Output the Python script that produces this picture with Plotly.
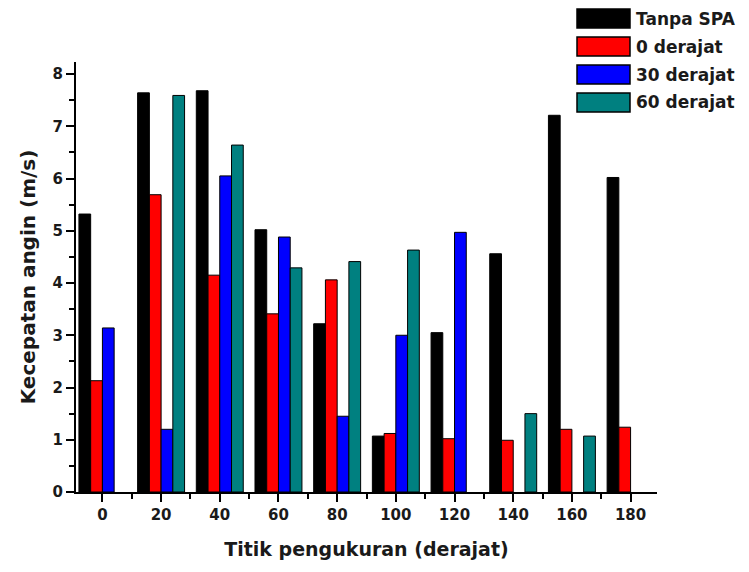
import plotly.graph_objects as go

# Measurement points (degrees) and wind speed (m/s) per configuration
titik = [0, 20, 40, 60, 80, 100, 120, 140, 160, 180]
tanpa_spa = [5.32, 7.64, 7.68, 5.02, 3.22, 1.07, 3.05, 4.56, 7.21, 6.02]
derajat_0 = [2.13, 5.69, 4.15, 3.41, 4.06, 1.12, 1.02, 0.99, 1.20, 1.24]
derajat_30 = [3.14, 1.20, 6.05, 4.88, 1.45, 3.00, 4.97, None, None, None]
derajat_60 = [None, 7.59, 6.64, 4.29, 4.41, 4.63, None, 1.50, 1.07, None]

series_names = ["Tanpa SPA", "0 derajat", "30 derajat", "60 derajat"]
series_values = [tanpa_spa, derajat_0, derajat_30, derajat_60]
series_colors = ["#000000", "#FF0000", "#0000FF", "#008080"]

W, H = 749, 572
L, R, T, B = 76, 92, 62, 80
FONT = "DejaVu Sans"
TXT = "#1a1a1a"

fig = go.Figure()
for name, vals, col in zip(series_names, series_values, series_colors):
    fig.add_trace(go.Bar(
        x=titik, y=vals, name=name,
        marker=dict(color=col, line=dict(color="#000000", width=1)),
        showlegend=False,
    ))

# Legend drawn as boxes + labels in the top-right corner
pw, ph = W - L - R, H - T - B


def px_x(px):
    return (px - L) / pw


def px_y(py):
    return (H - B - py) / ph


shapes, annotations = [], []
for i, (name, col) in enumerate(zip(series_names, series_colors)):
    top = 9 + 28 * i
    bot = top + 19
    shapes.append(dict(
        type="rect", xref="paper", yref="paper",
        x0=px_x(577), x1=px_x(630), y0=px_y(bot), y1=px_y(top),
        fillcolor=col, line=dict(color="#000000", width=1.5),
    ))
    annotations.append(dict(
        xref="paper", yref="paper", x=px_x(634), y=px_y((top + bot) / 2),
        xanchor="left", yanchor="middle", text=f"<b>{name}</b>",
        showarrow=False, font=dict(family=FONT, size=17, color=TXT),
    ))

fig.update_layout(
    width=W, height=H,
    margin=dict(l=L, r=R, t=T, b=B, autoexpand=False),
    paper_bgcolor="white", plot_bgcolor="white",
    barmode="group", bargap=0.2, bargroupgap=0,
    shapes=shapes, annotations=annotations,
    font=dict(family=FONT, color=TXT),
)

fig.update_xaxes(
    range=[-9, 189], tickmode="linear", tick0=0, dtick=20,
    showline=True, linecolor="#000000", linewidth=2,
    ticks="outside", ticklen=8, tickwidth=2, tickcolor="#000000",
    minor=dict(dtick=10, ticks="outside", ticklen=5, tickwidth=2, tickcolor="#000000"),
    showgrid=False, zeroline=False,
    tickfont=dict(family=FONT, size=15, color=TXT),
    tickprefix="<b>", ticksuffix="</b>",
    title=dict(text="<b>Titik pengukuran (derajat)</b>", standoff=20,
               font=dict(family=FONT, size=19, color=TXT)),
)

fig.update_yaxes(
    range=[0, 8.23], tickmode="linear", tick0=0, dtick=1,
    showline=True, linecolor="#000000", linewidth=2,
    ticks="outside", ticklen=8, tickwidth=2, tickcolor="#000000",
    minor=dict(dtick=0.5, ticks="outside", ticklen=5, tickwidth=2, tickcolor="#000000"),
    showgrid=False, zeroline=False,
    tickfont=dict(family=FONT, size=15, color=TXT),
    tickprefix="<b>", ticksuffix="</b>",
    title=dict(text="<b>Kecepatan angin (m/s)</b>", standoff=12,
               font=dict(family=FONT, size=20, color=TXT)),
)

fig.write_html("out.html")
